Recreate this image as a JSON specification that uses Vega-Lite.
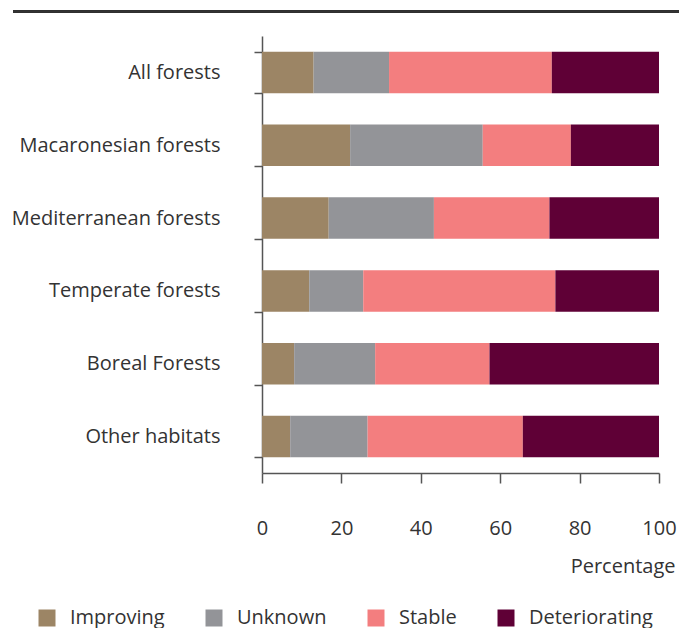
{
  "$schema": "https://vega.github.io/schema/vega-lite/v6.json",
  "padding": {"left": 11, "top": 10, "right": 0, "bottom": 0},
  "columns": 1,
  "spacing": 13,
  "config": {"view": {"stroke": null}, "font": "Open Sans"},
  "data": {"values": [
    {"habitat": "All forests", "status": "Improving", "value": 13, "order": 1},
    {"habitat": "All forests", "status": "Unknown", "value": 19, "order": 2},
    {"habitat": "All forests", "status": "Stable", "value": 41, "order": 3},
    {"habitat": "All forests", "status": "Deteriorating", "value": 27, "order": 4},
    {"habitat": "Macaronesian forests", "status": "Improving", "value": 22.2, "order": 1},
    {"habitat": "Macaronesian forests", "status": "Unknown", "value": 33.4, "order": 2},
    {"habitat": "Macaronesian forests", "status": "Stable", "value": 22.2, "order": 3},
    {"habitat": "Macaronesian forests", "status": "Deteriorating", "value": 22.2, "order": 4},
    {"habitat": "Mediterranean forests", "status": "Improving", "value": 16.8, "order": 1},
    {"habitat": "Mediterranean forests", "status": "Unknown", "value": 26.5, "order": 2},
    {"habitat": "Mediterranean forests", "status": "Stable", "value": 29.1, "order": 3},
    {"habitat": "Mediterranean forests", "status": "Deteriorating", "value": 27.6, "order": 4},
    {"habitat": "Temperate forests", "status": "Improving", "value": 11.9, "order": 1},
    {"habitat": "Temperate forests", "status": "Unknown", "value": 13.6, "order": 2},
    {"habitat": "Temperate forests", "status": "Stable", "value": 48.4, "order": 3},
    {"habitat": "Temperate forests", "status": "Deteriorating", "value": 26.1, "order": 4},
    {"habitat": "Boreal Forests", "status": "Improving", "value": 8.1, "order": 1},
    {"habitat": "Boreal Forests", "status": "Unknown", "value": 20.4, "order": 2},
    {"habitat": "Boreal Forests", "status": "Stable", "value": 28.8, "order": 3},
    {"habitat": "Boreal Forests", "status": "Deteriorating", "value": 42.7, "order": 4},
    {"habitat": "Other habitats", "status": "Improving", "value": 7.1, "order": 1},
    {"habitat": "Other habitats", "status": "Unknown", "value": 19.5, "order": 2},
    {"habitat": "Other habitats", "status": "Stable", "value": 39.1, "order": 3},
    {"habitat": "Other habitats", "status": "Deteriorating", "value": 34.3, "order": 4}
  ]},
  "resolve": {"scale": {"x": "independent"}},
  "concat": [
    {
      "width": 417,
      "height": 1,
      "mark": {"type": "rule", "color": "#333333", "strokeWidth": 1.5},
      "encoding": {
        "x": {"datum": 0, "type": "quantitative", "scale": {"domain": [0, 1], "range": [-249, 417]}, "axis": null},
        "x2": {"datum": 1}
      }
    },
    {
      "width": 397,
      "height": 437,
      "mark": {"type": "bar"},
      "encoding": {
        "y": {
          "field": "habitat", "type": "nominal",
          "sort": ["All forests", "Macaronesian forests", "Mediterranean forests", "Temperate forests", "Boreal Forests", "Other habitats"],
          "scale": {"paddingInner": 0.43, "paddingOuter": 0.215},
          "axis": {"title": null, "tickBand": "extent", "tickSize": 8, "labelPadding": 34, "labelFontSize": 20, "labelColor": "#333333", "domainColor": "#555555", "tickColor": "#555555", "domainWidth": 1.5, "tickWidth": 1.5, "labelLimit": 300}
        },
        "x": {
          "field": "value", "type": "quantitative", "stack": "zero",
          "scale": {"domain": [0, 100], "nice": false},
          "axis": {"values": [0, 20, 40, 60, 80, 100], "title": "Percentage", "grid": false, "tickSize": 10, "labelPadding": 35, "labelFontSize": 20, "labelColor": "#333333", "labelFlush": false, "domainColor": "#555555", "tickColor": "#555555", "domainWidth": 1.5, "tickWidth": 1.5, "titleFontSize": 20, "titleFontWeight": "normal", "titleColor": "#333333", "titleAnchor": "end", "titleAlign": "right", "titleX": 413, "titleY": 99, "titleBaseline": "alphabetic"}
        },
        "color": {
          "field": "status", "type": "nominal",
          "scale": {"domain": ["Improving", "Unknown", "Stable", "Deteriorating"], "range": ["#9c8565", "#939498", "#f37e7f", "#5f0036"]},
          "legend": {"title": null, "orient": "none", "legendX": -225, "legendY": 597, "direction": "horizontal", "symbolType": "square", "symbolSize": 289, "symbolStrokeWidth": 0, "symbolOpacity": 1, "labelFontSize": 20, "labelColor": "#333333", "columnPadding": 39, "labelOffset": 13, "labelLimit": 300}
        },
        "order": {"field": "order"}
      }
    }
  ]
}
